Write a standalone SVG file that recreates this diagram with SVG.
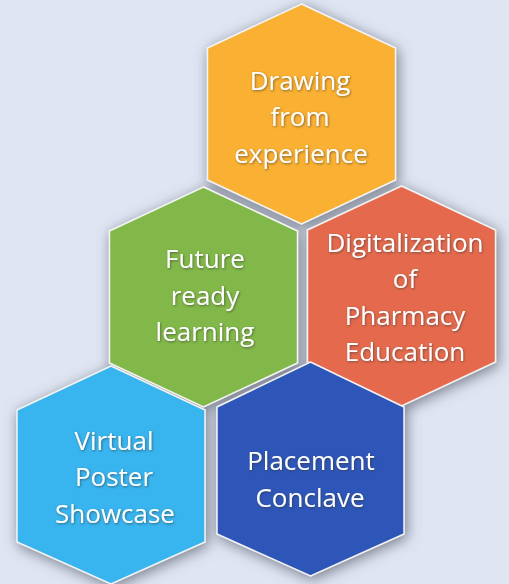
<svg xmlns="http://www.w3.org/2000/svg" width="509" height="584" viewBox="0 0 509 584">
<defs>
<style>
.hex{stroke:#f4f4f4;stroke-width:1.5}
.lbl{font-family:"Open Sans","Liberation Sans",sans-serif;font-size:26px;fill:#ffffff;text-anchor:middle}
</style>
<filter id="hs" x="-30%" y="-30%" width="160%" height="160%">
<feGaussianBlur in="SourceAlpha" stdDeviation="7" result="b"/>
<feOffset in="b" dx="2" dy="3" result="o"/>
<feFlood flood-color="#555b6a" flood-opacity="0.75"/>
<feComposite in2="o" operator="in" result="s"/>
<feMerge><feMergeNode in="s"/><feMergeNode in="SourceGraphic"/></feMerge>
</filter>
<filter id="ts" x="-10%" y="-20%" width="120%" height="140%">
<feDropShadow dx="0.8" dy="1" stdDeviation="0.8" flood-color="#333333" flood-opacity="0.6"/>
</filter>
</defs>
<rect width="509" height="584" fill="#dfe5f2"/>
<g id="connectors"/>
<g filter="url(#hs)">
<g id="node-drawing">
<polygon class="hex" fill="#fab030" points="301.5,4 395.5,48 395.5,180 301.5,224 207.5,180 207.5,48"/>
</g>
<g id="node-future">
<polygon class="hex" fill="#82b848" points="203.5,187 297.5,231 297.5,363 203.5,407 109.5,363 109.5,231"/>
</g>
<g id="node-digital">
<polygon class="hex" fill="#e56a4e" points="401.5,186 495.5,230 495.5,362 401.5,406 307.5,362 307.5,230"/>
</g>
<g id="node-virtual">
<polygon class="hex" fill="#38b4ee" points="111,366 205,410 205,542 111,584 17,542 17,410"/>
</g>
<g id="node-placement">
<polygon class="hex" fill="#2f56b8" points="310.5,362 404,407 404,534 310.5,576 217,534 217,407"/>
</g>
</g>
<g filter="url(#ts)">
<text class="lbl" x="300" y="90">Drawing</text>
<text class="lbl" x="300" y="126">from</text>
<text class="lbl" x="301" y="163">experience</text>
<text class="lbl" x="205" y="268">Future</text>
<text class="lbl" x="205" y="305">ready</text>
<text class="lbl" x="205" y="341">learning</text>
<text class="lbl" x="405" y="252">Digitalization</text>
<text class="lbl" x="405" y="288">of</text>
<text class="lbl" x="405" y="325">Pharmacy</text>
<text class="lbl" x="405" y="361">Education</text>
<text class="lbl" x="114" y="450">Virtual</text>
<text class="lbl" x="114" y="486">Poster</text>
<text class="lbl" x="115" y="523">Showcase</text>
<text class="lbl" x="311" y="470">Placement</text>
<text class="lbl" x="310" y="507">Conclave</text>
</g>
</svg>
